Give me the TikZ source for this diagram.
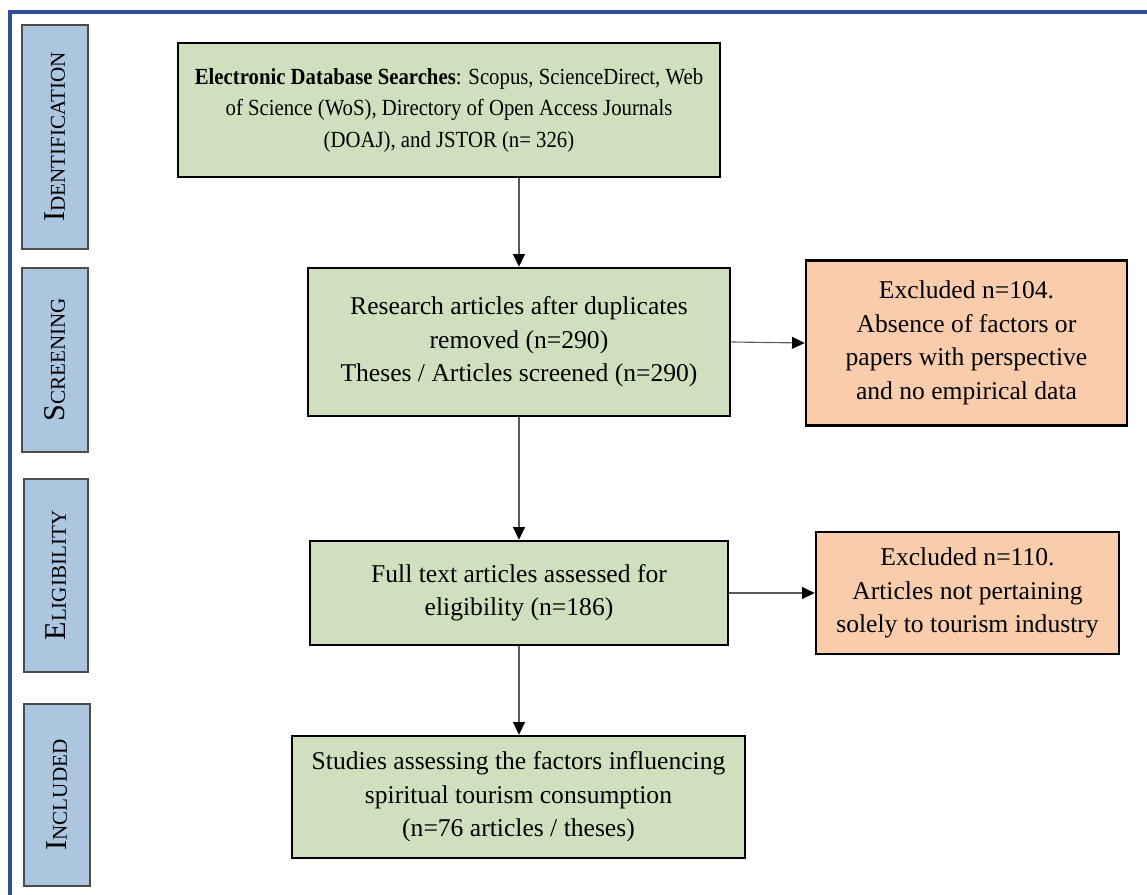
\documentclass[tikz,border=0pt]{standalone}
\usepackage{fontspec}
\setmainfont{Liberation Serif}
\newfontfamily\narrowserif[FakeStretch=0.9]{Liberation Serif}
\usepackage{xcolor}
\usetikzlibrary{arrows.meta, positioning}
\definecolor{framblue}{RGB}{46,78,150}
\definecolor{phaseblue}{RGB}{173,198,224}
\definecolor{stepgreen}{RGB}{208,224,190}
\definecolor{exclorange}{RGB}{249,204,172}
\newcommand{\phasecaps}[2]{{\fontsize{21.5}{21.5}\selectfont #1}{\fontsize{15}{15}\selectfont #2}}
\tikzset{
  phase/.style={rectangle, draw=black!70, line width=0.9pt, fill=phaseblue,
                rotate=90, inner sep=0pt, align=center},
  stepbox/.style={rectangle, draw=black, line width=1.8pt, fill=#1,
                  font=\fontsize{18.2}{23.8}\selectfont, inner sep=4pt, align=center},
  stepbox/.default=stepgreen,
  arr/.style={-{Triangle[length=9pt, width=8.5pt, black]}, line width=0.8pt, black!65},
}
\begin{document}
\begin{tikzpicture}[x=0.025cm, y=-0.025cm]
  \useasboundingbox (0,0) rectangle (1147,895);
  %% Outer frame
  \draw[framblue, line width=2.6pt] (10,895) -- (10,12) -- (1147,12);
  %% Phase labels
  \node[phase, minimum width=5.6cm, minimum height=1.65cm] (idn) at (55,137)
    {\phasecaps{I}{DENTIFICATION}};
  \node[phase, minimum width=4.6cm, minimum height=1.65cm] (scr) at (55,360)
    {\phasecaps{S}{CREENING}};
  \node[phase, minimum width=4.825cm, minimum height=1.6cm] (eli) at (56,575.5)
    {\phasecaps{E}{LIGIBILITY}};
  \node[phase, minimum width=4.55cm, minimum height=1.65cm] (inc) at (57,795)
    {\phasecaps{I}{NCLUDED}};
  %% Main flow
  \node[stepbox, font=\narrowserif\fontsize{16.4}{22.4}\selectfont,
        minimum width=13.55cm, minimum height=3.35cm] (search) at (449,110)
    {\textbf{Electronic Database Searches}: Scopus, ScienceDirect, Web\\
     of Science (WoS), Directory of Open Access Journals\\
     (DOAJ), and JSTOR (n= 326)};
  \node[stepbox, minimum width=10.55cm, minimum height=3.7cm] (dedup) at (519,342)
    {Research articles after duplicates\\
     removed (n=290)\\
     Theses / Articles screened (n=290)};
  \node[stepbox, minimum width=10.45cm, minimum height=2.6cm] (full) at (519,593)
    {Full text articles assessed for\\
     eligibility (n=186)};
  \node[stepbox, minimum width=11.325cm, minimum height=3.05cm] (incl) at (518.5,797)
    {Studies assessing the factors influencing\\
     spiritual tourism consumption\\
     (n=76 articles / theses)};
  %% Exclusions
  \node[stepbox=exclorange, minimum width=8.025cm, minimum height=4.125cm] (exc1) at (966.5,343)
    {Excluded n=104.\\
     Absence of factors or\\
     papers with perspective\\
     and no empirical data};
  \node[stepbox=exclorange, minimum width=7.575cm, minimum height=3.05cm] (exc2) at (967.5,593)
    {Excluded n=110.\\
     Articles not pertaining\\
     solely to tourism industry};
  %% Connectors
  \draw[arr] (search.south -| dedup.north) -- (dedup.north);
  \foreach \a/\b in {dedup/full,full/incl}
    \draw[arr] (\a.south) -- (\a.south |- \b.north);
  \draw[arr] (dedup.east) -- (exc1.west);
  \draw[arr] (full.east) -- (exc2.west);
\end{tikzpicture}
\end{document}
